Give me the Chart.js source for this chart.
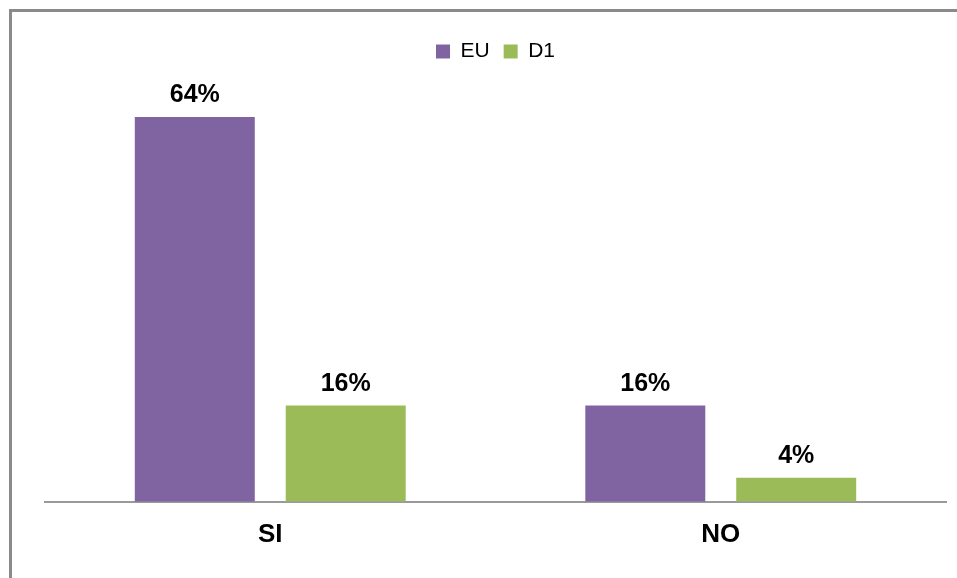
<!DOCTYPE html>
<html>
<head>
<meta charset="utf-8">
<script src="https://cdn.jsdelivr.net/npm/chart.js@4/dist/chart.umd.min.js"></script>
<style>
  html, body { margin: 0; padding: 0; background: #fff; overflow: hidden; }
  #wrap { position: relative; width: 957px; height: 578px; }
  #frame { position: absolute; left: 9px; top: 9px; width: 1000px; height: 600px;
           border-left: 3px solid #8a8a8a; border-top: 3px solid #8a8a8a; pointer-events: none; }
  canvas { position: absolute; left: 0; top: 0; }
</style>
</head>
<body>
<div id="wrap">
  <canvas id="myChart" width="957" height="578"></canvas>
  <div id="frame"></div>
</div>
<script>
// categorie e valori
const categories = ['SI', 'NO'];
const euValues = [64, 16];
const d1Values = [16, 4];
const seriesNames = ['EU', 'D1'];

const ctx = document.getElementById('myChart').getContext('2d');

// etichette sopra le barre
const valueLabels = {
  id: 'valueLabels',
  afterDatasetsDraw(chart) {
    const c = chart.ctx;
    c.save();
    c.font = 'bold 25px "Liberation Sans", Arial, sans-serif';
    c.fillStyle = '#000';
    c.textAlign = 'center';
    c.textBaseline = 'alphabetic';
    chart.data.datasets.forEach((ds, i) => {
      chart.getDatasetMeta(i).data.forEach((bar, j) => {
        c.fillText(ds.data[j] + '%', bar.x, bar.y - 15);
      });
    });
    c.restore();
  }
};

const chart = new Chart(ctx, {
  type: 'bar',
  data: {
    labels: categories,
    datasets: [
      { label: seriesNames[0], data: euValues, backgroundColor: '#8064A2',
        categoryPercentage: 0.67, barPercentage: 0.795 },
      { label: seriesNames[1], data: d1Values, backgroundColor: '#9BBB59',
        categoryPercentage: 0.67, barPercentage: 0.795 }
    ]
  },
  plugins: [valueLabels],
  options: {
    responsive: false,
    animation: false,
    layout: { padding: { top: 27, left: 45, right: 11, bottom: 19 } },
    plugins: {
      tooltip: { enabled: false },
      legend: {
        position: 'top',
        labels: {
          boxWidth: 14, boxHeight: 14,
          color: '#000',
          padding: 14,
          font: { size: 21, family: '"Liberation Sans", Arial, sans-serif' }
        }
      }
    },
    scales: {
      x: {
        grid: { display: false },
        border: { display: true, color: '#9a9a9a', width: 2 },
        ticks: {
          color: '#000',
          padding: 9,
          font: { size: 26, weight: 'bold', family: '"Liberation Sans", Arial, sans-serif' }
        }
      },
      y: {
        display: false,
        min: 0,
        max: 71.5
      }
    }
  }
});
</script>
</body>
</html>
